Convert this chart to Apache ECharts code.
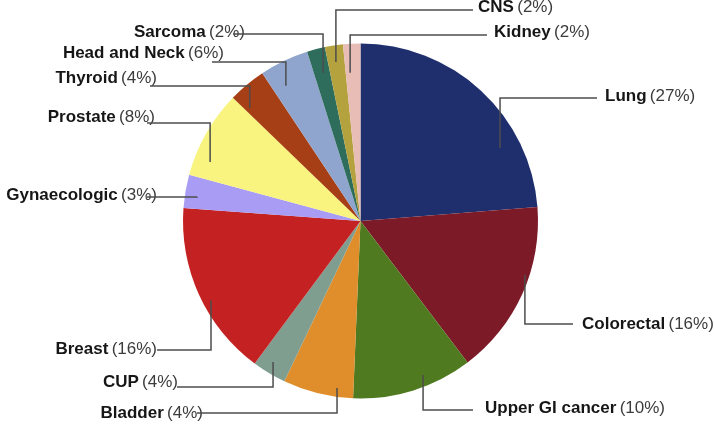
<!DOCTYPE html>
<html>
<head>
<meta charset="utf-8">
<script src="https://cdn.jsdelivr.net/npm/echarts@6/dist/echarts.min.js"></script>
<style>
  html, body { margin: 0; padding: 0; background: #fff; }
  #chart { width: 714px; height: 424px; }
</style>
</head>
<body>
<div id="chart"></div>
<script>
  // categories, clockwise from 12 o'clock
  var categories = ['Lung', 'Colorectal', 'Upper GI cancer', 'Bladder', 'CUP', 'Breast',
    'Gynaecologic', 'Prostate', 'Thyroid', 'Head and Neck', 'Sarcoma', 'CNS', 'Kidney']
  // slice sizes as drawn (share of the circle, %)
  var shares = [23.75, 15.94, 10.97, 6.39, 3.11, 16.0, 3.03, 8.03, 3.44, 4.47, 1.64, 1.64, 1.58]
  // percentages printed in the labels
  var labelPct = [27, 16, 10, 4, 4, 16, 3, 8, 4, 6, 2, 2, 2]

  var colors = ['#1f2f6e', '#7c1a27', '#4f7a1f', '#e08e2b', '#7f9e90', '#c42222',
    '#a99cf4', '#f8f47f', '#a63f15', '#8fa5cd', '#2e6d5c', '#b4a23f', '#e8bdb6']

  // label layout (pixels): text anchor, leader line height and end
  var labelX = [605, 582, 485, 203, 178, 157, 157, 155, 157, 224, 245, 478, 494]
  var labelY = [96, 324, 408, 413, 382, 349, 195, 117, 78, 53, 32, 7, 32]
  var lineY = [98, 324, 410, 413, 387, 350, 197, 123, 86, 62, 34, 10, 35]
  var lineEndX = [597, 573, 473, 197, 177, 157, 147, 147, 150, 212, 233, 473, 487]
  // where each leader starts inside its slice: angle (deg, clockwise from top), radius fraction
  var anchorAng = [62.4, 108.2, 157.9, 188.0, 211.8, 242.1, 278.4, 291.4, 315.5, 331.1, 345.8, 351.2, 356.0]
  var anchorR = [0.887, 0.975, 0.937, 0.95, 0.935, 0.953, 0.93, 0.91, 0.89, 0.87, 0.86, 0.906, 0.837]

  var cx = 360.5, cy = 221, R = 177.5

  var data = categories.map(function (name, i) {
    return { name: name, value: shares[i], itemStyle: { color: colors[i] } }
  })

  // leader lines: from inside the slice, straight up/down, then across to the label
  var leaders = categories.map(function (name, i) {
    var a = anchorAng[i] * Math.PI / 180
    var ax = cx + Math.sin(a) * R * anchorR[i]
    var ay = cy - Math.cos(a) * R * anchorR[i]
    return {
      type: 'polyline',
      silent: true,
      z: 100,
      shape: { points: [[ax, ay], [ax, lineY[i]], [lineEndX[i], lineY[i]]] },
      style: { stroke: '#4d4d4d', lineWidth: 1.5, fill: null }
    }
  })

  var myChart = echarts.init(document.getElementById('chart'))
  myChart.setOption({
    animation: false,
    graphic: leaders,
    series: [{
      type: 'pie',
      center: [cx, cy],
      radius: R,
      startAngle: 90,
      clockwise: true,
      data: data,
      label: {
        show: true,
        position: 'outside',
        overflow: 'none',
        formatter: function (p) {
          return '{b|' + p.name + '} {p|(' + labelPct[p.dataIndex] + '%)}'
        },
        rich: {
          b: { fontFamily: 'Liberation Sans', fontSize: 17, fontWeight: 'bold', color: '#161616' },
          p: { fontFamily: 'Liberation Sans', fontSize: 17, color: '#3c3c3c' }
        }
      },
      labelLine: { show: false },
      labelLayout: function (params) {
        var i = params.dataIndex
        return {
          x: labelX[i],
          y: labelY[i],
          align: labelX[i] > cx ? 'left' : 'right',
          verticalAlign: 'middle'
        }
      },
      emphasis: { disabled: true }
    }]
  })
</script>
</body>
</html>
